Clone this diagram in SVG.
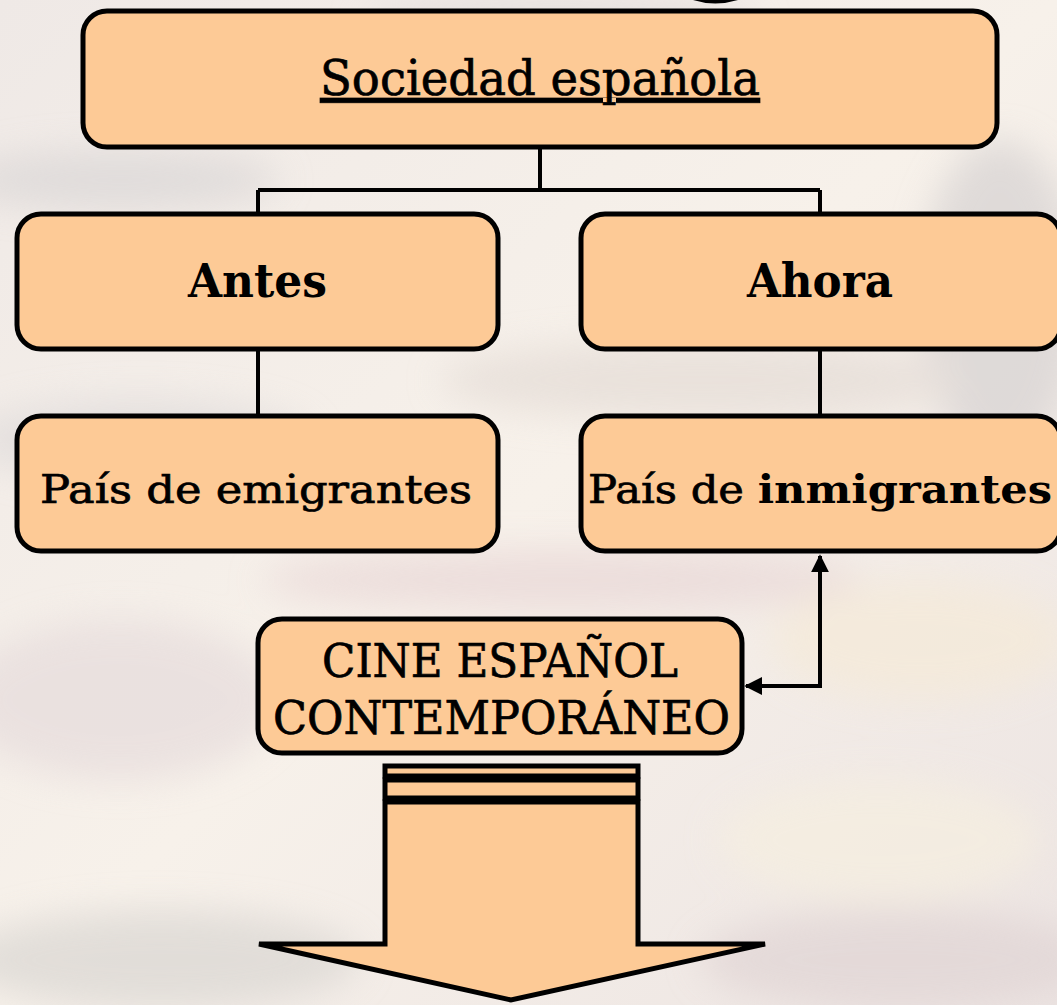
<svg xmlns="http://www.w3.org/2000/svg" width="1057" height="1005" viewBox="0 0 1057 1005">
<defs>
<style>
.box{fill:#fdca96;stroke:#000;stroke-width:5}
.t{font-family:"DejaVu Serif",serif;fill:#000;text-anchor:middle}
.r{stroke:#000;stroke-width:0.7}
.con{fill:none;stroke:#000;stroke-width:4}
</style>
<marker id="ah" viewBox="0 0 10 10" refX="9" refY="5" markerWidth="4.5" markerHeight="4.5" orient="auto-start-reverse" markerUnits="strokeWidth">
<path d="M0,0 L10,5 L0,10 z" fill="#000"/>
</marker>
<filter id="blur" x="-50%" y="-50%" width="200%" height="200%"><feGaussianBlur stdDeviation="18"/></filter>
<linearGradient id="bg" x1="0" y1="0" x2="1" y2="1">
<stop offset="0" stop-color="#efe9e6"/>
<stop offset="0.5" stop-color="#f7f1ea"/>
<stop offset="1" stop-color="#ece4e2"/>
</linearGradient>
</defs>
<g id="background">
<rect width="1057" height="1005" fill="url(#bg)"/>
<g filter="url(#blur)" opacity="0.7">
<ellipse cx="120" cy="180" rx="160" ry="30" fill="#d9d6d6"/>
<ellipse cx="1000" cy="300" rx="80" ry="160" fill="#d6d2d2"/>
<ellipse cx="140" cy="440" rx="170" ry="40" fill="#dedada"/>
<ellipse cx="700" cy="380" rx="260" ry="40" fill="#e4dcd6"/>
<ellipse cx="560" cy="580" rx="300" ry="30" fill="#e8d6d6"/>
<ellipse cx="920" cy="640" rx="150" ry="60" fill="#f5ead8"/>
<ellipse cx="120" cy="700" rx="160" ry="80" fill="#e6dcdc"/>
<ellipse cx="160" cy="960" rx="200" ry="50" fill="#d9d6d2"/>
<ellipse cx="900" cy="960" rx="200" ry="50" fill="#e0d4d4"/>
<ellipse cx="880" cy="840" rx="160" ry="60" fill="#f6efe0"/>
<ellipse cx="560" cy="20" rx="200" ry="20" fill="#dcd8d8"/>
</g>
<path d="M693,0 Q715,7 738,0 Z" fill="#000"/>
</g>
<g id="connectors">
<path class="con" d="M540,147 V190 M258,190 H820 M258,190 V213 M820,190 V213"/>
<path class="con" d="M258,349 V415 M820,349 V415"/>
<path class="con" d="M746,686 H820 V556" marker-start="url(#ah)" marker-end="url(#ah)"/>
</g>
<g id="sociedad">
<rect class="box" x="83" y="11" width="914" height="136" rx="24"/>
<text class="t r" x="540" y="95" font-size="48" textLength="440" lengthAdjust="spacingAndGlyphs" text-decoration="underline">Sociedad española</text>
</g>
<g id="antes">
<rect class="box" x="17" y="214" width="481" height="135" rx="24"/>
<text class="t" x="257.5" y="297" font-size="47" font-weight="bold" textLength="139" lengthAdjust="spacingAndGlyphs">Antes</text>
</g>
<g id="ahora">
<rect class="box" x="581" y="214" width="480" height="135" rx="24"/>
<text class="t" x="820" y="297" font-size="47" font-weight="bold" textLength="146" lengthAdjust="spacingAndGlyphs">Ahora</text>
</g>
<g id="emigrantes">
<rect class="box" x="17" y="416" width="481" height="135" rx="24"/>
<text class="t r" x="256" y="503" font-size="40" textLength="432" lengthAdjust="spacingAndGlyphs">País de emigrantes</text>
</g>
<g id="inmigrantes">
<rect class="box" x="581" y="416" width="480" height="135" rx="24"/>
<text class="t" x="820" y="503" font-size="40" textLength="464" lengthAdjust="spacingAndGlyphs"><tspan class="r">País de </tspan><tspan font-weight="bold">inmigrantes</tspan></text>
</g>
<g id="cine">
<rect class="box" x="258" y="619" width="484" height="134" rx="24"/>
<text class="t r" x="500" y="677" font-size="46" textLength="356" lengthAdjust="spacingAndGlyphs">CINE ESPAÑOL</text>
<text class="t r" x="501.5" y="734" font-size="46" textLength="457" lengthAdjust="spacingAndGlyphs">CONTEMPORÁNEO</text>
</g>
<g id="block-arrow">
<rect x="385" y="766" width="253" height="10" fill="#fdca96" stroke="#000" stroke-width="5"/>
<rect x="385" y="780" width="253" height="18" fill="#fdca96" stroke="#000" stroke-width="5"/>
<path d="M385,802 H638 V944 H765 L511,1000 L259,944 H385 Z" fill="#fdca96" stroke="#000" stroke-width="5" stroke-linejoin="miter"/>
</g>
</svg>
